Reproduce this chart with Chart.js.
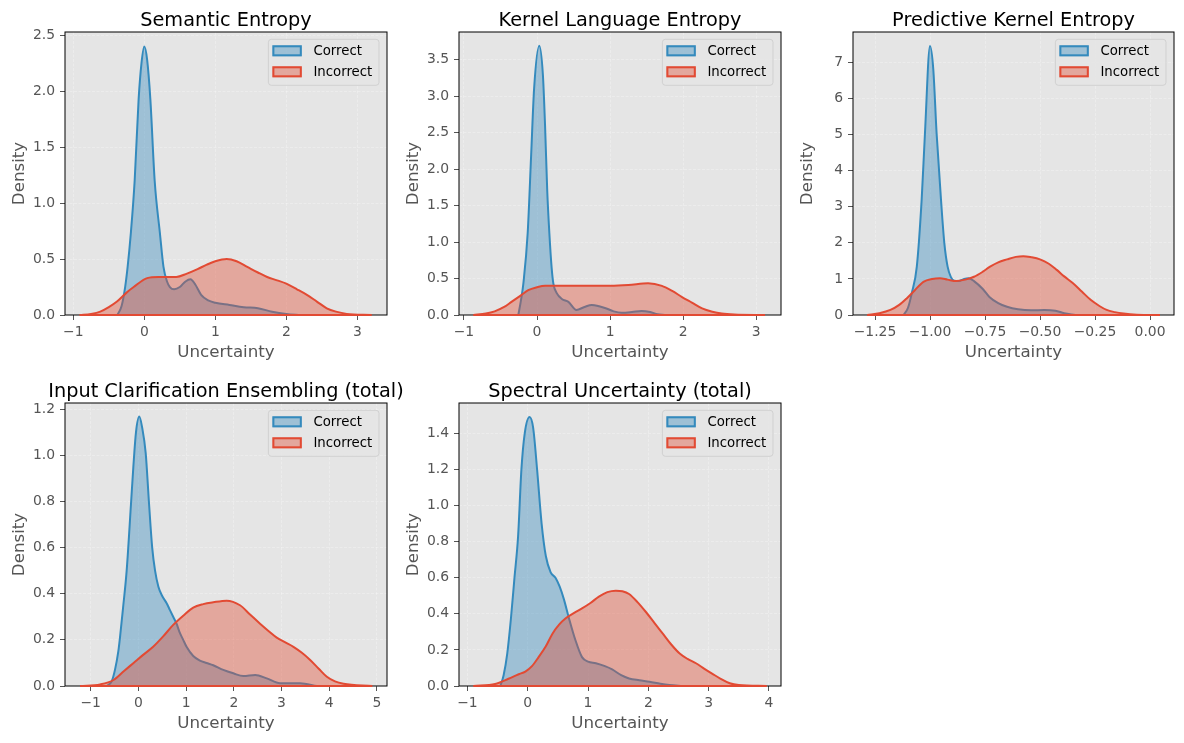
<!DOCTYPE html>
<html>
<head>
<meta charset="utf-8">
<script src="https://cdn.jsdelivr.net/npm/chart.js@4.4.0/dist/chart.umd.min.js"></script>
<style>
  body { margin: 0; background: #fff; }
  #fig { position: relative; width: 1184px; height: 743px; overflow: hidden; }
  #fig canvas { position: absolute; }
</style>
</head>
<body>
<div id="fig"></div>
<script>
// KDE curves (x = uncertainty, y = density)

// Semantic Entropy
let semCorrX = [-0.38, -0.32, -0.27, -0.235, -0.19, -0.136, -0.08, -0.04, 0, 0.04, 0.085, 0.146, 0.22, 0.27, 0.32, 0.36, 0.42, 0.5, 0.58, 0.65, 0.72, 0.8, 0.9, 1.0, 1.2, 1.4, 1.6, 1.8, 2.0, 2.2];
let semCorrY = [0, 0.08, 0.25, 0.43, 0.73, 1.2, 1.93, 2.25, 2.4, 2.28, 1.93, 1.2, 0.73, 0.43, 0.3, 0.25, 0.23, 0.25, 0.3, 0.32, 0.27, 0.18, 0.13, 0.11, 0.09, 0.07, 0.06, 0.03, 0.01, 0];
let semIncX = [-0.91, -0.75, -0.62, -0.5, -0.385, -0.25, -0.15, 0.04, 0.2, 0.45, 0.6, 0.75, 0.88, 1.0, 1.16, 1.3, 1.45, 1.6, 1.73, 1.87, 2.0, 2.15, 2.29, 2.43, 2.57, 2.7, 2.85, 3.2];
let semIncY = [0, 0.01, 0.03, 0.07, 0.12, 0.2, 0.25, 0.33, 0.34, 0.34, 0.37, 0.41, 0.45, 0.48, 0.5, 0.48, 0.43, 0.38, 0.34, 0.31, 0.28, 0.23, 0.18, 0.12, 0.06, 0.03, 0.01, 0];
let semXTicks = [-1, 0, 1, 2, 3];
let semYTicks = [0, 0.5, 1.0, 1.5, 2.0, 2.5];

// Kernel Language Entropy
let kleCorrX = [-0.256, -0.22, -0.187, -0.128, -0.08, -0.04, 0.03, 0.08, 0.11, 0.14, 0.169, 0.2, 0.224, 0.27, 0.34, 0.43, 0.54, 0.65, 0.75, 0.85, 0.95, 1.05, 1.16, 1.3, 1.43, 1.55, 1.65, 1.75];
let kleCorrY = [0, 0.2, 0.43, 1.12, 2.2, 3.1, 3.69, 3.3, 2.6, 1.7, 1.12, 0.65, 0.43, 0.3, 0.22, 0.18, 0.07, 0.11, 0.137, 0.12, 0.09, 0.05, 0.03, 0.04, 0.055, 0.04, 0.01, 0];
let kleIncX = [-0.87, -0.7, -0.58, -0.45, -0.35, -0.22, -0.12, 0.0, 0.11, 0.34, 0.6, 0.8, 1.0, 1.25, 1.52, 1.71, 1.85, 1.98, 2.12, 2.26, 2.4, 2.53, 2.7, 3.12];
let kleIncY = [0, 0.02, 0.05, 0.11, 0.18, 0.27, 0.34, 0.38, 0.4, 0.4, 0.4, 0.4, 0.4, 0.41, 0.435, 0.4, 0.33, 0.25, 0.17, 0.09, 0.045, 0.02, 0.007, 0];
let kleXTicks = [-1, 0, 1, 2, 3];
let kleYTicks = [0, 0.5, 1.0, 1.5, 2.0, 2.5, 3.0, 3.5];

// Predictive Kernel Entropy
let pkeCorrX = [-1.12, -1.1, -1.083, -1.06, -1.038, -1.023, -1.0, -0.985, -0.97, -0.95, -0.935, -0.92, -0.905, -0.89, -0.87, -0.845, -0.825, -0.8, -0.76, -0.73, -0.69, -0.65, -0.6, -0.54, -0.48, -0.43, -0.39, -0.34];
let pkeCorrY = [0, 0.2, 0.6, 1.34, 3.19, 5.03, 7.45, 6.8, 5.03, 3.19, 2.0, 1.34, 1.05, 0.95, 0.94, 1.0, 1.02, 0.94, 0.72, 0.5, 0.33, 0.23, 0.16, 0.13, 0.14, 0.12, 0.05, 0];
let pkeIncX = [-1.285, -1.23, -1.18, -1.14, -1.106, -1.07, -1.03, -0.99, -0.955, -0.92, -0.88, -0.84, -0.8, -0.76, -0.727, -0.69, -0.65, -0.61, -0.576, -0.54, -0.5, -0.46, -0.424, -0.39, -0.35, -0.31, -0.27, -0.23, -0.197, -0.16, -0.12, -0.06, 0.045];
let pkeIncY = [0, 0.05, 0.14, 0.28, 0.46, 0.68, 0.92, 1.0, 1.02, 0.98, 0.94, 0.98, 1.06, 1.2, 1.34, 1.46, 1.54, 1.61, 1.63, 1.6, 1.54, 1.42, 1.25, 1.07, 0.88, 0.65, 0.42, 0.25, 0.14, 0.08, 0.04, 0.01, 0];
let pkeXTicks = [-1.25, -1.0, -0.75, -0.5, -0.25, 0.0];
let pkeYTicks = [0, 1, 2, 3, 4, 5, 6, 7];

// Input Clarification Ensembling (total)
let iceCorrX = [-0.66, -0.56, -0.49, -0.42, -0.385, -0.32, -0.245, -0.154, -0.105, -0.05, 0.02, 0.08, 0.154, 0.224, 0.29, 0.35, 0.42, 0.5, 0.59, 0.66, 0.73, 0.8, 0.87, 0.94, 1.01, 1.15, 1.29, 1.43, 1.57, 1.78, 1.99, 2.2, 2.45, 2.69, 2.97, 3.39, 3.74];
let iceCorrY = [0, 0.02, 0.07, 0.15, 0.21, 0.34, 0.5, 0.79, 0.95, 1.1, 1.168, 1.12, 1.01, 0.79, 0.6, 0.5, 0.43, 0.39, 0.36, 0.33, 0.3, 0.27, 0.23, 0.2, 0.17, 0.13, 0.11, 0.1, 0.09, 0.07, 0.055, 0.043, 0.048, 0.033, 0.012, 0.012, 0];
let iceIncX = [-1.22, -0.8, -0.52, -0.3, -0.1, 0.1, 0.31, 0.52, 0.73, 0.94, 1.15, 1.36, 1.57, 1.85, 2.13, 2.34, 2.55, 2.72, 2.9, 3.07, 3.25, 3.42, 3.6, 3.78, 3.95, 4.12, 4.3, 4.9];
let iceIncY = [0, 0.007, 0.026, 0.065, 0.1, 0.135, 0.17, 0.215, 0.265, 0.305, 0.34, 0.355, 0.363, 0.37, 0.35, 0.31, 0.27, 0.24, 0.21, 0.19, 0.17, 0.145, 0.113, 0.075, 0.04, 0.02, 0.01, 0];
let iceXTicks = [-1, 0, 1, 2, 3, 4, 5];
let iceYTicks = [0, 0.2, 0.4, 0.6, 0.8, 1.0, 1.2];

// Spectral Uncertainty (total)
let suCorrX = [-0.455, -0.4, -0.34, -0.28, -0.22, -0.16, -0.105, -0.05, 0.03, 0.09, 0.155, 0.23, 0.3, 0.38, 0.46, 0.53, 0.6, 0.68, 0.79, 0.9, 1.0, 1.13, 1.28, 1.4, 1.55, 1.68, 1.85, 2.02, 2.2, 2.35, 2.57];
let suCorrY = [0, 0.06, 0.18, 0.37, 0.6, 0.83, 1.2, 1.4, 1.49, 1.43, 1.2, 0.9, 0.72, 0.63, 0.6, 0.55, 0.48, 0.38, 0.255, 0.16, 0.135, 0.126, 0.11, 0.092, 0.06, 0.042, 0.032, 0.024, 0.013, 0.006, 0];
let suIncX = [-0.9, -0.54, -0.32, -0.15, -0.04, 0.07, 0.18, 0.3, 0.41, 0.52, 0.63, 0.77, 0.9, 1.04, 1.18, 1.32, 1.46, 1.57, 1.68, 1.82, 1.96, 2.1, 2.24, 2.38, 2.52, 2.65, 2.79, 2.93, 3.07, 3.2, 3.35, 3.5, 3.96];
let suIncY = [0, 0.011, 0.04, 0.065, 0.08, 0.11, 0.16, 0.22, 0.29, 0.34, 0.375, 0.405, 0.43, 0.46, 0.495, 0.52, 0.528, 0.525, 0.51, 0.465, 0.41, 0.35, 0.29, 0.23, 0.18, 0.15, 0.126, 0.095, 0.066, 0.04, 0.015, 0.005, 0];
let suXTicks = [-1, 0, 1, 2, 3, 4];
let suYTicks = [0, 0.2, 0.4, 0.6, 0.8, 1.0, 1.2, 1.4];

let seriesLabels = ["Correct", "Incorrect"];

// ---- styling / layout ----
const FONT = "'DejaVu Sans', sans-serif";
const BLUE = "#348ABD", RED = "#E24A33";
const BLUE_FILL = "rgba(52,138,189,0.4)", RED_FILL = "rgba(226,74,51,0.4)";
const PAD_L = 65, PAD_T = 32, PAD_R = 45, PAD_B = 58;

Chart.defaults.font.family = FONT;
Chart.defaults.animation = false;

// axes boxes in the figure: left, top, right, bottom
let panels = [
  { title: "Semantic Entropy", box: [65, 32, 387, 315], xr: [-1.117, 3.418], yMax: 2.53,
    cx: semCorrX, cy: semCorrY, ix: semIncX, iy: semIncY, xt: semXTicks, yt: semYTicks, xd: 0, yd: 1 },
  { title: "Kernel Language Entropy", box: [459, 32, 781, 315], xr: [-1.068, 3.34], yMax: 3.88,
    cx: kleCorrX, cy: kleCorrY, ix: kleIncX, iy: kleIncY, xt: kleXTicks, yt: kleYTicks, xd: 0, yd: 1 },
  { title: "Predictive Kernel Entropy", box: [853, 32, 1174, 315], xr: [-1.35, 0.109], yMax: 7.84,
    cx: pkeCorrX, cy: pkeCorrY, ix: pkeIncX, iy: pkeIncY, xt: pkeXTicks, yt: pkeYTicks, xd: 2, yd: 0 },
  { title: "Input Clarification Ensembling (total)", box: [65, 403, 387, 686], xr: [-1.537, 5.21], yMax: 1.227,
    cx: iceCorrX, cy: iceCorrY, ix: iceIncX, iy: iceIncY, xt: iceXTicks, yt: iceYTicks, xd: 0, yd: 1 },
  { title: "Spectral Uncertainty (total)", box: [459, 403, 781, 686], xr: [-1.14, 4.2], yMax: 1.568,
    cx: suCorrX, cy: suCorrY, ix: suIncX, iy: suIncY, xt: suXTicks, yt: suYTicks, xd: 0, yd: 1 }
];

function fmt(v, d) {
  return Number(v).toFixed(d).replace("-", "\u2212");
}

function zip(xs, ys) {
  return xs.map((x, i) => ({ x: x, y: ys[i] }));
}

// background, frame, baselines, title and legend
const panelDecor = {
  id: "panelDecor",
  beforeDraw(chart) {
    let a = chart.chartArea, ctx = chart.ctx;
    ctx.save();
    ctx.fillStyle = "#E5E5E5";
    ctx.fillRect(a.left, a.top, a.right - a.left, a.bottom - a.top);
    ctx.restore();
  },
  beforeDatasetsDraw(chart) {
    let a = chart.chartArea, ctx = chart.ctx;
    ctx.save();
    ctx.strokeStyle = "#000";
    ctx.lineWidth = 1;
    ctx.strokeRect(a.left, a.top, a.right - a.left, a.bottom - a.top);
    ctx.restore();
  },
  afterDatasetDraw(chart, args) {
    let pts = args.meta.data, ds = chart.data.datasets[args.index], ctx = chart.ctx;
    if (!pts.length) return;
    let y0 = chart.scales.y.getPixelForValue(0);
    ctx.save();
    ctx.strokeStyle = ds.borderColor;
    ctx.lineWidth = 2;
    ctx.beginPath();
    ctx.moveTo(pts[0].x, y0);
    ctx.lineTo(pts[pts.length - 1].x, y0);
    ctx.stroke();
    ctx.restore();
  },
  afterDraw(chart, args, opts) {
    let a = chart.chartArea, ctx = chart.ctx;
    ctx.save();
    // title
    ctx.font = "19.3px " + FONT;
    ctx.fillStyle = "#000";
    ctx.textAlign = "center";
    ctx.textBaseline = "alphabetic";
    ctx.fillText(opts.title, (a.left + a.right) / 2, a.top - 6);

    // legend
    ctx.font = "13.3px " + FONT;
    let items = chart.data.datasets;
    let textW = Math.max(...items.map(d => ctx.measureText(d.label).width));
    let w = 4 + 29.4 + 11.6 + textW + 6.7, h = 46;
    let x = a.right - 8 - w, y = a.top + 7.3;
    ctx.beginPath();
    ctx.roundRect(x, y, w, h, 3);
    ctx.fillStyle = "rgba(229,229,229,0.8)";
    ctx.fill();
    ctx.strokeStyle = "rgba(204,204,204,0.8)";
    ctx.lineWidth = 1;
    ctx.stroke();
    items.forEach((d, i) => {
      let py = y + 6 + i * 21;
      ctx.fillStyle = d.backgroundColor;
      ctx.fillRect(x + 4, py, 29.4, 11);
      ctx.strokeStyle = d.borderColor;
      ctx.lineWidth = 2;
      ctx.strokeRect(x + 5, py + 1, 27.4, 9);
      ctx.fillStyle = "#000";
      ctx.textAlign = "left";
      ctx.textBaseline = "middle";
      ctx.fillText(d.label, x + 45, py + 6);
    });
    ctx.restore();
  }
};

function makePanel(p) {
  let [l, t, r, b] = p.box;
  let canvas = document.createElement("canvas");
  let w = r - l + PAD_L + PAD_R, h = b - t + PAD_T + PAD_B;
  canvas.width = w;
  canvas.height = h;
  canvas.style.left = (l - PAD_L) + "px";
  canvas.style.top = (t - PAD_T) + "px";
  canvas.style.width = w + "px";
  canvas.style.height = h + "px";
  document.getElementById("fig").appendChild(canvas);

  let grid = {
    color: "rgba(255,255,255,0.35)",
    lineWidth: 0.8,
    drawTicks: true,
    tickLength: 5,
    tickColor: "#555",
    tickWidth: 1,
    tickBorderDash: []
  };

  return new Chart(canvas.getContext("2d"), {
    type: "line",
    data: {
      datasets: [
        { label: seriesLabels[0], data: zip(p.cx, p.cy), borderColor: BLUE, backgroundColor: BLUE_FILL,
          borderWidth: 2, pointRadius: 0, fill: "origin", cubicInterpolationMode: "monotone", order: 2, clip: 4 },
        { label: seriesLabels[1], data: zip(p.ix, p.iy), borderColor: RED, backgroundColor: RED_FILL,
          borderWidth: 2, pointRadius: 0, fill: "origin", cubicInterpolationMode: "monotone", order: 1, clip: 4 }
      ]
    },
    options: {
      responsive: false,
      devicePixelRatio: 1,
      layout: { padding: { left: 0, top: PAD_T, right: PAD_R, bottom: 0 } },
      plugins: {
        legend: { display: false },
        tooltip: { enabled: false },
        panelDecor: { title: p.title }
      },
      scales: {
        x: {
          type: "linear", position: "bottom", min: p.xr[0], max: p.xr[1],
          afterBuildTicks: s => { s.ticks = p.xt.map(v => ({ value: v })); },
          afterFit: s => { s.height = PAD_B; },
          grid: grid,
          border: { display: false, dash: [3, 1.5] },
          ticks: { color: "#555", font: { size: 13.9 }, padding: 4, autoSkip: false, maxRotation: 0,
                   callback: v => fmt(v, p.xd) },
          title: { display: true, text: "Uncertainty", color: "#555", font: { size: 16.7 },
                   padding: { top: 0, bottom: 10 } }
        },
        y: {
          type: "linear", position: "left", min: 0, max: p.yMax,
          afterBuildTicks: s => { s.ticks = p.yt.map(v => ({ value: v })); },
          afterFit: s => { s.width = PAD_L; },
          grid: grid,
          border: { display: false, dash: [3, 1.5] },
          ticks: { color: "#555", font: { size: 13.9 }, padding: 5, autoSkip: false,
                   callback: v => fmt(v, p.yd) },
          title: { display: true, text: "Density", color: "#555", font: { size: 16.7 },
                   padding: { top: 10, bottom: 0 } }
        }
      }
    },
    plugins: [panelDecor]
  });
}

panels.forEach(makePanel);
</script>
</body>
</html>
